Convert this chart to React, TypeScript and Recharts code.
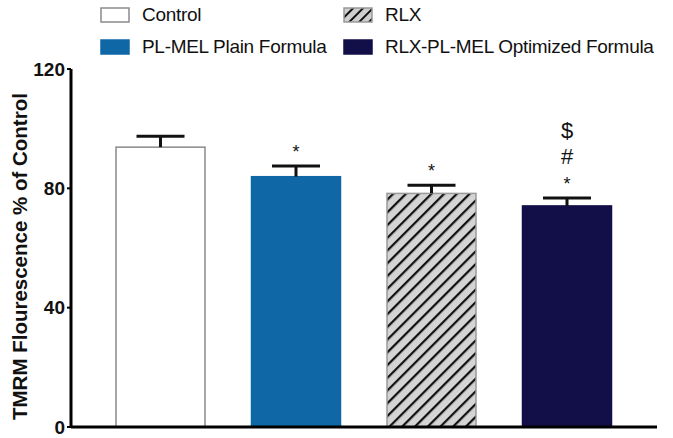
import {Bar, BarChart, Cell, LabelList, Legend, XAxis, YAxis} from "recharts";

const groups = ["Control", "PL-MEL Plain Formula", "RLX", "RLX-PL-MEL Optimized Formula"];
const means = [93.8, 83.9, 78.3, 74.1];
const sems = [3.7, 3.6, 2.7, 2.7];
const marks = ["", "*", "*", "*\n#\n$"];
const fills = ["#ffffff", "#0f67a6", "url(#hatch)", "#120e48"];
const strokes = ["#8a8a8a", "#0f67a6", "#9a9a9a", "#120e48"];
const yTicks = [0, 40, 80, 120];

const data = groups.map((g, i) => ({name: g, mean: means[i], sem: sems[i], mark: marks[i]}));

const font = "'Liberation Sans', Arial, Helvetica, sans-serif";

const BarWithError = (props: any) => {
    const {x, y, width, height, fill, stroke, payload} = props;
    const pxPerUnit = height / payload.mean;
    const errTop = y - payload.sem * pxPerUnit;
    const cx = x + width / 2;
    return (
        <g>
            <rect x={x} y={y} width={width} height={height} fill={fill} stroke={stroke} strokeWidth={1.5}/>
            <line x1={cx} x2={cx} y1={y} y2={errTop} stroke="#111" strokeWidth={3}/>
            <line x1={cx - 24} x2={cx + 24} y1={errTop} y2={errTop} stroke="#111" strokeWidth={3}/>
        </g>
    );
};

const MarkLabel = (props: any) => {
    const {x, y, width, value, index} = props;
    if (!value) return null;
    const pxPerUnit = props.height / means[index];
    const errTop = y - sems[index] * pxPerUnit;
    const lines = String(value).split("\n");
    const cx = x + width / 2;
    return (
        <g>
            {lines.map((s, k) => (
                <text key={k} x={cx} y={errTop - 8 - k * 26} textAnchor="middle"
                      fontFamily={font} fontSize={s === "*" ? 18 : 22} fill="#111">
                    {s}
                </text>
            ))}
        </g>
    );
};

const LegendBox = ({i}: {i: number}) => (
    <svg width={30} height={16} style={{marginRight: 12, flexShrink: 0}}>
        <defs>
            <pattern id={"hatchL"} width={7} height={7} patternUnits="userSpaceOnUse" patternTransform="rotate(45)">
                <rect width={7} height={7} fill="#cfcfcf"/>
                <line x1={0} y1={0} x2={0} y2={7} stroke="#111" strokeWidth={4}/>
            </pattern>
        </defs>
        <rect x={1} y={1} width={28} height={14} fill={i === 2 ? "url(#hatchL)" : fills[i]}
              stroke={strokes[i]} strokeWidth={1.5}/>
    </svg>
);

const renderLegend = () => {
    const order = [0, 2, 1, 3];
    return (
        <div style={{
            display: "grid", gridTemplateColumns: "243px 330px", rowGap: 11,
            fontFamily: font, fontSize: 19, color: "#111", position: "absolute", left: 100, top: 4,
            whiteSpace: "nowrap",
        }}>
            {order.map((i) => (
                <div key={i} style={{display: "flex", alignItems: "center", height: 21}}>
                    <LegendBox i={i}/>
                    <span style={{letterSpacing: -0.3}}>{groups[i]}</span>
                </div>
            ))}
        </div>
    );
};

export default function App() {
    return (
        <div style={{position: "absolute", left: 0, top: 0}}>
            <BarChart width={673} height={438} data={data}
                      margin={{top: 69, right: 16, left: 0, bottom: 10}} barCategoryGap={0}>
                <defs>
                    <pattern id="hatch" width={9} height={9} patternUnits="userSpaceOnUse" patternTransform="rotate(45)">
                        <rect width={9} height={9} fill="#d4d4d4"/>
                        <line x1={0} y1={0} x2={0} y2={9} stroke="#111" strokeWidth={4.5}/>
                    </pattern>
                </defs>
                <Legend content={renderLegend} verticalAlign="top" wrapperStyle={{top: 0, left: 0}}/>
                <XAxis dataKey="name" tick={false} height={1} tickLine={false}
                       axisLine={{stroke: "#000", strokeWidth: 3}} padding={{left: 22, right: 22}}/>
                <YAxis domain={[0, 120]} ticks={yTicks} width={71} interval={0}
                       axisLine={{stroke: "#000", strokeWidth: 3}}
                       tickLine={{stroke: "#000", strokeWidth: 2}} tickSize={4}
                       tick={{fill: "#111", fontSize: 19, fontWeight: "bold", fontFamily: font}}
                       label={{
                           value: "TMRM Flourescence % of Control", angle: -90, position: "insideLeft",
                           offset: 0, dx: 20, dy: 172,
                           style: {fill: "#111", fontSize: 20.5, fontWeight: "bold", fontFamily: font, textAnchor: "start"},
                       }}/>
                <Bar dataKey="mean" barSize={89} isAnimationActive={false} shape={BarWithError}>
                    {data.map((d, i) => (
                        <Cell key={d.name} fill={fills[i]} stroke={strokes[i]}/>
                    ))}
                    <LabelList dataKey="mark" content={MarkLabel}/>
                </Bar>
            </BarChart>
        </div>
    );
}
